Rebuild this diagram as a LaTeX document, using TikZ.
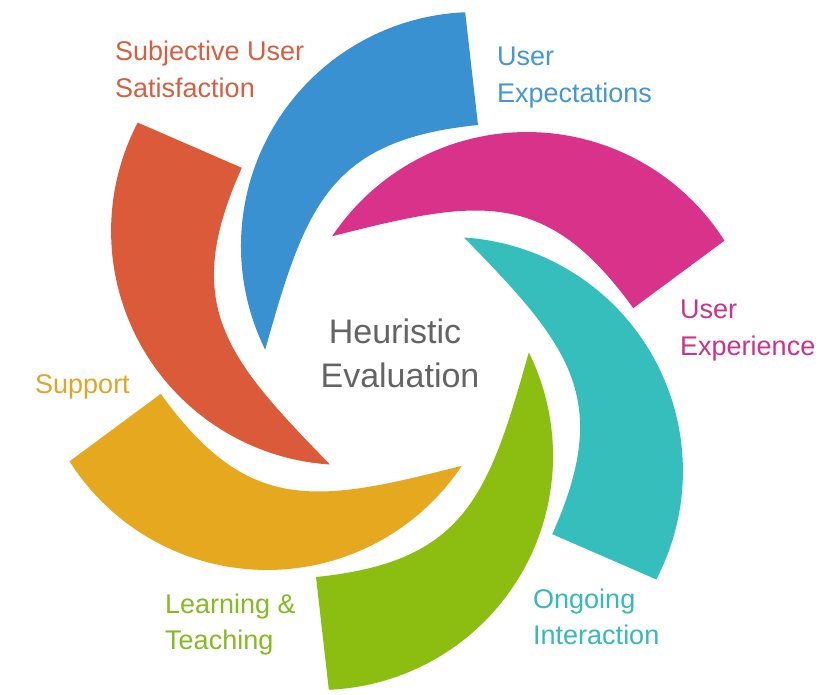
\documentclass[tikz,border=0pt]{standalone}
\usepackage{fontspec}
\setmainfont{Liberation Sans}
\definecolor{cblue}{RGB}{58,145,210}
\definecolor{cmag}{RGB}{216,50,138}
\definecolor{cteal}{RGB}{53,190,188}
\definecolor{cgreen}{RGB}{140,190,18}
\definecolor{corange}{RGB}{229,168,30}
\definecolor{cred}{RGB}{218,90,57}
\definecolor{tblue}{RGB}{70,150,210}
\definecolor{tmag}{RGB}{205,50,135}
\definecolor{tteal}{RGB}{55,185,185}
\definecolor{tgreen}{RGB}{135,185,35}
\definecolor{torange}{RGB}{225,165,40}
\definecolor{tred}{RGB}{213,95,65}
\definecolor{cgray}{RGB}{100,100,100}
\begin{document}
\begin{tikzpicture}[x=1pt,y=1pt,
  lbl/.style={anchor=base west,inner sep=0pt,font=\fontsize{27}{32}\selectfont},
  ctr/.style={anchor=base,inner sep=0pt,text=cgray,font=\fontsize{34}{40}\selectfont}]
\useasboundingbox (0,0) rectangle (835,-694);
\fill[white] (0,0) rectangle (835,-694);
\foreach \c/\a in {cblue/0,cmag/-60,cteal/-120,cgreen/-180,corange/-240,cred/-300}{
  \fill[\c,shift={(397,-351)},rotate=\a]
    (-131.8,1.3) arc[start angle=206.3,end angle=92.4,radius=234]
    -- (81,226) .. controls (-68.2,211) and (-91.5,145) .. (-131.8,1.3)
    -- cycle;
}
\node[lbl,text=tred] (sat1) at (115,-60) {Subjective User};
\node[lbl,text=tred] (sat2) at (115,-97) {Satisfaction};
\node[lbl,text=tblue] (exp1) at (497,-65) {User};
\node[lbl,text=tblue] (exp2) at (497,-102) {Expectations};
\node[lbl,text=tmag] (ux1) at (680,-318) {User};
\node[lbl,text=tmag] (ux2) at (680,-355) {Experience};
\node[lbl,text=torange] (sup) at (35,-393) {Support};
\node[lbl,text=tgreen] (lt1) at (165,-613) {Learning \&};
\node[lbl,text=tgreen] (lt2) at (165,-649) {Teaching};
\node[lbl,text=tteal] (oi1) at (533,-608) {Ongoing};
\node[lbl,text=tteal] (oi2) at (533,-644) {Interaction};
\node[ctr] (he1) at (395,-343) {Heuristic};
\node[ctr] (he2) at (400,-387) {Evaluation};
\end{tikzpicture}
\end{document}
